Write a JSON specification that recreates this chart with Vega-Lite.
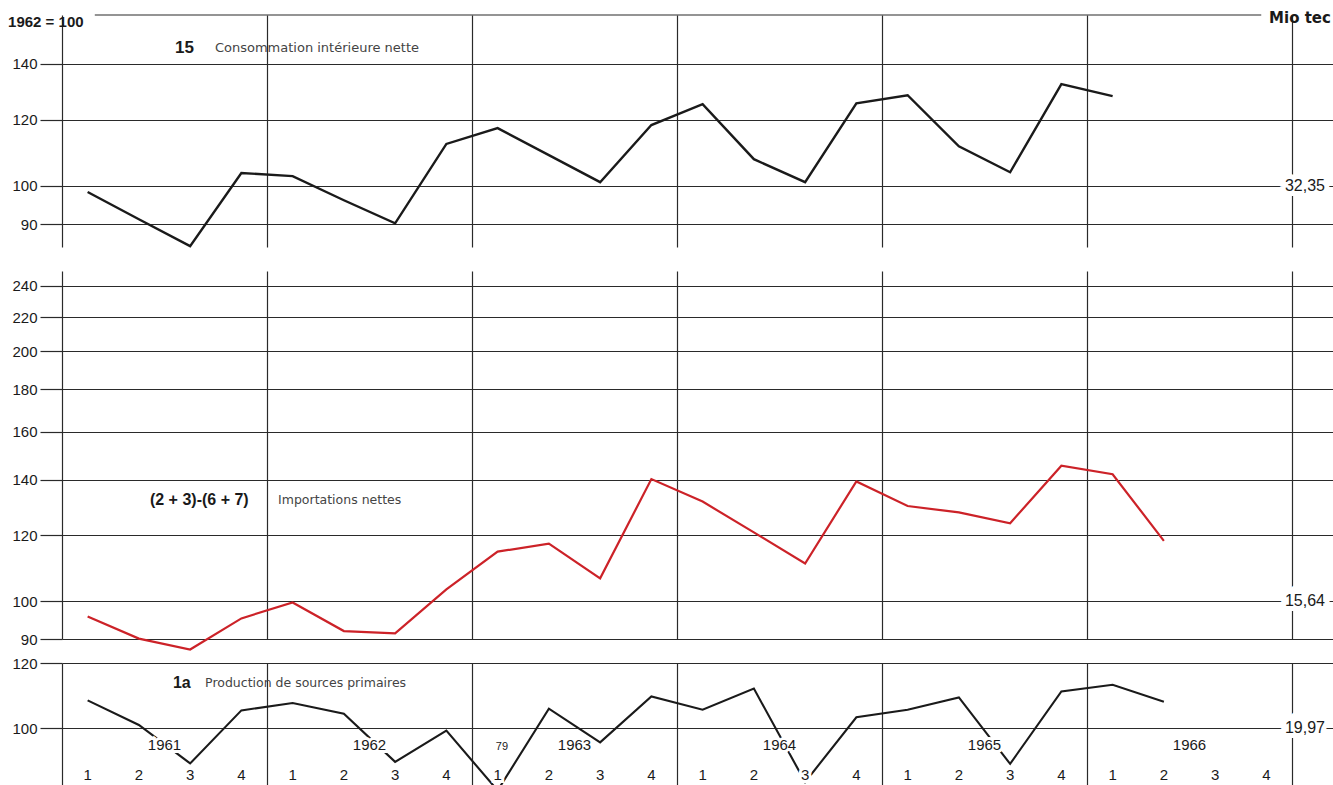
{
  "$schema": "https://vega.github.io/schema/vega-lite/v6.json",
  "background": "#ffffff",
  "padding": {"left": 8, "top": 11, "right": 0, "bottom": 0},
  "bounds": "flush",
  "spacing": 24,
  "config": {
    "view": {"stroke": null},
    "axis": {
      "gridColor": "#2a2a2a", "gridWidth": 1.2, "gridOpacity": 1,
      "tickColor": "#2a2a2a", "tickWidth": 1.2,
      "labelFont": "Liberation Sans", "labelFontSize": 15, "labelColor": "#1a1a1a",
      "domain": false
    },
    "text": {"font": "Liberation Sans", "color": "#1a1a1a"}
  },
  "datasets": {
    "consommation": [
      {"t": 1961.125, "indice": 98.3}, {"t": 1961.375, "indice": 91.2}, {"t": 1961.625, "indice": 84.7}, {"t": 1961.875, "indice": 103.6},
      {"t": 1962.125, "indice": 102.7}, {"t": 1962.375, "indice": 96.1}, {"t": 1962.625, "indice": 90.2}, {"t": 1962.875, "indice": 112.2},
      {"t": 1963.125, "indice": 117.2}, {"t": 1963.375, "indice": 108.8}, {"t": 1963.625, "indice": 101.0}, {"t": 1963.875, "indice": 118.2},
      {"t": 1964.125, "indice": 125.2}, {"t": 1964.375, "indice": 107.6}, {"t": 1964.625, "indice": 101.0}, {"t": 1964.875, "indice": 125.5},
      {"t": 1965.125, "indice": 128.3}, {"t": 1965.375, "indice": 111.5}, {"t": 1965.625, "indice": 103.8}, {"t": 1965.875, "indice": 132.3},
      {"t": 1966.125, "indice": 128.0}
    ],
    "importations": [
      {"t": 1961.125, "indice": 95.8}, {"t": 1961.375, "indice": 90.1}, {"t": 1961.625, "indice": 87.4}, {"t": 1961.875, "indice": 95.3},
      {"t": 1962.125, "indice": 99.6}, {"t": 1962.375, "indice": 92.0}, {"t": 1962.625, "indice": 91.4}, {"t": 1962.875, "indice": 103.3},
      {"t": 1963.125, "indice": 114.7}, {"t": 1963.375, "indice": 117.3}, {"t": 1963.625, "indice": 106.5}, {"t": 1963.875, "indice": 140.3},
      {"t": 1964.125, "indice": 131.8}, {"t": 1964.375, "indice": 121.0}, {"t": 1964.625, "indice": 111.0}, {"t": 1964.875, "indice": 139.4},
      {"t": 1965.125, "indice": 130.2}, {"t": 1965.375, "indice": 127.9}, {"t": 1965.625, "indice": 124.1}, {"t": 1965.875, "indice": 145.6},
      {"t": 1966.125, "indice": 142.2}, {"t": 1966.375, "indice": 118.2}
    ],
    "production": [
      {"t": 1961.125, "indice": 108.1}, {"t": 1961.375, "indice": 100.9}, {"t": 1961.625, "indice": 90.6}, {"t": 1961.875, "indice": 105.1},
      {"t": 1962.125, "indice": 107.3}, {"t": 1962.375, "indice": 104.1}, {"t": 1962.625, "indice": 91.0}, {"t": 1962.875, "indice": 99.3},
      {"t": 1963.125, "indice": 84.0}, {"t": 1963.375, "indice": 105.6}, {"t": 1963.625, "indice": 96.1}, {"t": 1963.875, "indice": 109.3},
      {"t": 1964.125, "indice": 105.3}, {"t": 1964.375, "indice": 111.7}, {"t": 1964.625, "indice": 86.0}, {"t": 1964.875, "indice": 103.1},
      {"t": 1965.125, "indice": 105.3}, {"t": 1965.375, "indice": 109.0}, {"t": 1965.625, "indice": 90.5}, {"t": 1965.875, "indice": 110.8},
      {"t": 1966.125, "indice": 112.9}, {"t": 1966.375, "indice": 107.7}
    ],
    "trimestres": [
      {"t": 1961.125, "trimestre": "1"}, {"t": 1961.375, "trimestre": "2"}, {"t": 1961.625, "trimestre": "3"}, {"t": 1961.875, "trimestre": "4"},
      {"t": 1962.125, "trimestre": "1"}, {"t": 1962.375, "trimestre": "2"}, {"t": 1962.625, "trimestre": "3"}, {"t": 1962.875, "trimestre": "4"},
      {"t": 1963.125, "trimestre": "1"}, {"t": 1963.375, "trimestre": "2"}, {"t": 1963.625, "trimestre": "3"}, {"t": 1963.875, "trimestre": "4"},
      {"t": 1964.125, "trimestre": "1"}, {"t": 1964.375, "trimestre": "2"}, {"t": 1964.625, "trimestre": "3"}, {"t": 1964.875, "trimestre": "4"},
      {"t": 1965.125, "trimestre": "1"}, {"t": 1965.375, "trimestre": "2"}, {"t": 1965.625, "trimestre": "3"}, {"t": 1965.875, "trimestre": "4"},
      {"t": 1966.125, "trimestre": "1"}, {"t": 1966.375, "trimestre": "2"}, {"t": 1966.625, "trimestre": "3"}, {"t": 1966.875, "trimestre": "4"}
    ],
    "annees": [
      {"t": 1961.5, "annee": "1961"}, {"t": 1962.5, "annee": "1962"}, {"t": 1963.5, "annee": "1963"},
      {"t": 1964.5, "annee": "1964"}, {"t": 1965.5, "annee": "1965"}, {"t": 1966.5, "annee": "1966"}
    ]
  },
  "vconcat": [
    {
      "width": 1271,
      "height": 232,
      "layer": [
        {
          "data": {"name": "consommation"},
          "mark": {"type": "line", "color": "#1a1a1a", "strokeWidth": 2.4},
          "encoding": {
            "x": {"field": "t", "type": "quantitative",
              "scale": {"domain": [1961, 1967.2], "nice": false, "zero": false},
              "axis": {"values": [1961, 1962, 1963, 1964, 1965, 1966, 1967], "grid": true, "labels": false, "ticks": false, "title": null}},
            "y": {"field": "indice", "type": "quantitative",
              "scale": {"type": "log", "domain": [84.5, 160], "nice": false},
              "axis": {"values": [90, 100, 120, 140], "grid": true, "tickSize": 22, "labelPadding": 3, "format": "d", "title": null}}
          }
        },
        {
          "data": {"values": [{}]},
          "mark": {"type": "rule", "color": "#2a2a2a", "strokeWidth": 1.2},
          "encoding": {"x": {"datum": 1961.16}, "x2": {"datum": 1966.85}, "y": {"datum": 160}}
        },
        {
          "data": {"values": [{}]},
          "mark": {"type": "text", "text": "1962 = 100", "align": "left", "baseline": "middle", "fontSize": 15, "fontWeight": "bold"},
          "encoding": {"x": {"datum": 1960.737}, "y": {"datum": 156.9}}
        },
        {
          "data": {"values": [{}]},
          "mark": {"type": "text", "text": "Mio tec", "align": "right", "baseline": "middle", "fontSize": 15, "fontWeight": "bold", "font": "DejaVu Sans"},
          "encoding": {"x": {"datum": 1967.19}, "y": {"datum": 158.6}}
        },
        {
          "data": {"values": [{}]},
          "mark": {"type": "text", "text": "15", "align": "left", "baseline": "middle", "fontSize": 17, "fontWeight": "bold"},
          "encoding": {"x": {"datum": 1961.551}, "y": {"datum": 146.1}}
        },
        {
          "data": {"values": [{}]},
          "mark": {"type": "text", "text": "Consommation intérieure nette", "align": "left", "baseline": "middle", "fontSize": 13, "font": "DejaVu Sans", "color": "#444444"},
          "encoding": {"x": {"datum": 1961.746}, "y": {"datum": 146.1}}
        },
        {
          "data": {"values": [{}]},
          "mark": {"type": "text", "text": "32,35", "align": "center", "baseline": "middle", "fontSize": 16, "fill": "#ffffff", "stroke": "#ffffff", "strokeWidth": 10},
          "encoding": {"x": {"datum": 1967.063}, "y": {"datum": 100}}
        },
        {
          "data": {"values": [{}]},
          "mark": {"type": "text", "text": "32,35", "align": "center", "baseline": "middle", "fontSize": 16},
          "encoding": {"x": {"datum": 1967.063}, "y": {"datum": 100}}
        }
      ]
    },
    {
      "width": 1271,
      "height": 368,
      "layer": [
        {
          "data": {"name": "importations"},
          "mark": {"type": "line", "color": "#cc2228", "strokeWidth": 2.2},
          "encoding": {
            "x": {"field": "t", "type": "quantitative",
              "scale": {"domain": [1961, 1967.2], "nice": false, "zero": false},
              "axis": {"values": [1961, 1962, 1963, 1964, 1965, 1966, 1967], "grid": true, "labels": false, "ticks": false, "title": null}},
            "y": {"field": "indice", "type": "quantitative",
              "scale": {"type": "log", "domain": [90, 250], "nice": false},
              "axis": {"values": [90, 100, 120, 140, 160, 180, 200, 220, 240], "grid": true, "tickSize": 22, "labelPadding": 3, "format": "d", "title": null}}
          }
        },
        {
          "data": {"values": [{}]},
          "mark": {"type": "text", "text": "(2 + 3)-(6 + 7)", "align": "left", "baseline": "middle", "fontSize": 16, "fontWeight": "bold", "fill": "#ffffff", "stroke": "#ffffff", "strokeWidth": 6},
          "encoding": {"x": {"datum": 1961.429}, "y": {"datum": 132.4}}
        },
        {
          "data": {"values": [{}]},
          "mark": {"type": "text", "text": "(2 + 3)-(6 + 7)", "align": "left", "baseline": "middle", "fontSize": 16, "fontWeight": "bold"},
          "encoding": {"x": {"datum": 1961.429}, "y": {"datum": 132.4}}
        },
        {
          "data": {"values": [{}]},
          "mark": {"type": "text", "text": "Importations nettes", "align": "left", "baseline": "middle", "fontSize": 12.5, "font": "DejaVu Sans", "color": "#444444"},
          "encoding": {"x": {"datum": 1962.054}, "y": {"datum": 132.4}}
        },
        {
          "data": {"values": [{}]},
          "mark": {"type": "text", "text": "15,64", "align": "center", "baseline": "middle", "fontSize": 16, "fill": "#ffffff", "stroke": "#ffffff", "strokeWidth": 10},
          "encoding": {"x": {"datum": 1967.063}, "y": {"datum": 100}}
        },
        {
          "data": {"values": [{}]},
          "mark": {"type": "text", "text": "15,64", "align": "center", "baseline": "middle", "fontSize": 16},
          "encoding": {"x": {"datum": 1967.063}, "y": {"datum": 100}}
        }
      ]
    },
    {
      "width": 1271,
      "height": 122,
      "layer": [
        {
          "data": {"name": "production"},
          "mark": {"type": "line", "color": "#1a1a1a", "strokeWidth": 2.1, "clip": true},
          "encoding": {
            "x": {"field": "t", "type": "quantitative",
              "scale": {"domain": [1961, 1967.2], "nice": false, "zero": false},
              "axis": {"values": [1961, 1962, 1963, 1964, 1965, 1966, 1967], "grid": true, "labels": false, "ticks": false, "title": null}},
            "y": {"field": "indice", "type": "quantitative",
              "scale": {"type": "log", "domain": [85.3, 120], "nice": false},
              "axis": {"values": [100, 120], "grid": true, "tickSize": 22, "labelPadding": 3, "format": "d", "title": null}}
          }
        },
        {
          "data": {"name": "annees"},
          "mark": {"type": "text", "baseline": "middle", "fontSize": 15, "fill": "#ffffff", "stroke": "#ffffff", "strokeWidth": 6},
          "encoding": {"x": {"field": "t", "type": "quantitative"}, "y": {"datum": 95.4}, "text": {"field": "annee"}}
        },
        {
          "data": {"name": "annees"},
          "mark": {"type": "text", "baseline": "middle", "fontSize": 15},
          "encoding": {"x": {"field": "t", "type": "quantitative"}, "y": {"datum": 95.4}, "text": {"field": "annee"}}
        },
        {
          "data": {"name": "trimestres"},
          "mark": {"type": "text", "baseline": "middle", "fontSize": 15, "fill": "#ffffff", "stroke": "#ffffff", "strokeWidth": 6},
          "encoding": {"x": {"field": "t", "type": "quantitative"}, "y": {"datum": 87.7}, "text": {"field": "trimestre"}}
        },
        {
          "data": {"name": "trimestres"},
          "mark": {"type": "text", "baseline": "middle", "fontSize": 15},
          "encoding": {"x": {"field": "t", "type": "quantitative"}, "y": {"datum": 87.7}, "text": {"field": "trimestre"}}
        },
        {
          "data": {"values": [{}]},
          "mark": {"type": "text", "text": "79", "align": "center", "baseline": "middle", "fontSize": 11},
          "encoding": {"x": {"datum": 1963.146}, "y": {"datum": 94.9}}
        },
        {
          "data": {"values": [{}]},
          "mark": {"type": "text", "text": "1a", "align": "left", "baseline": "middle", "fontSize": 16, "fontWeight": "bold"},
          "encoding": {"x": {"datum": 1961.541}, "y": {"datum": 113.4}}
        },
        {
          "data": {"values": [{}]},
          "mark": {"type": "text", "text": "Production de sources primaires", "align": "left", "baseline": "middle", "fontSize": 12.5, "font": "DejaVu Sans", "color": "#444444"},
          "encoding": {"x": {"datum": 1961.698}, "y": {"datum": 113.4}}
        },
        {
          "data": {"values": [{}]},
          "mark": {"type": "text", "text": "19,97", "align": "center", "baseline": "middle", "fontSize": 16, "fill": "#ffffff", "stroke": "#ffffff", "strokeWidth": 10},
          "encoding": {"x": {"datum": 1967.063}, "y": {"datum": 100}}
        },
        {
          "data": {"values": [{}]},
          "mark": {"type": "text", "text": "19,97", "align": "center", "baseline": "middle", "fontSize": 16},
          "encoding": {"x": {"datum": 1967.063}, "y": {"datum": 100}}
        }
      ]
    }
  ]
}
